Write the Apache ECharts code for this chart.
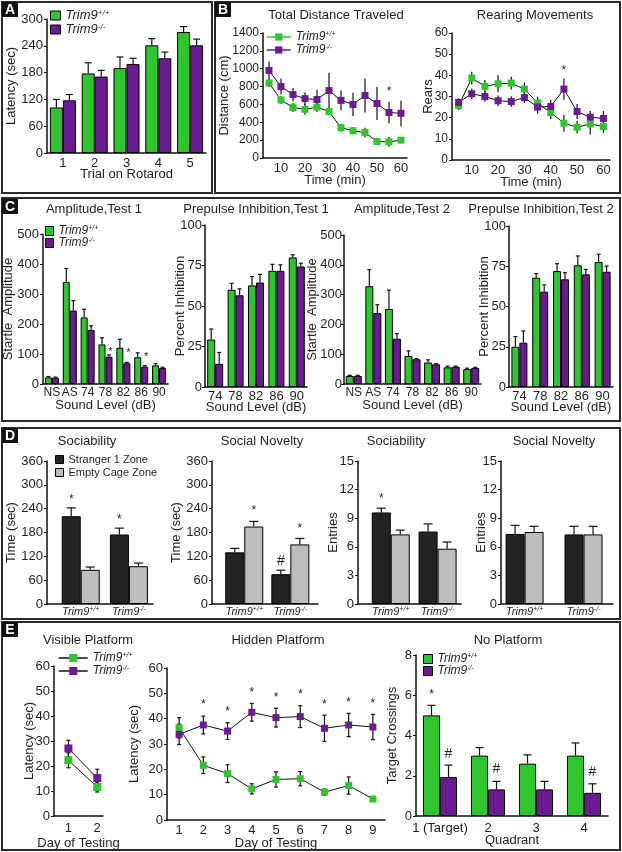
<!DOCTYPE html>
<html>
<head>
<meta charset="utf-8">
<script src="https://cdn.jsdelivr.net/npm/echarts@6/dist/echarts.min.js"></script>
<style>
html, body { margin: 0; padding: 0; background: #fff; }
#main { width: 622px; height: 852px; }
</style>
</head>
<body>
<div id="main"></div>
<script>
// ---------- data ----------
// A: rotarod
var rotaTrials = ['1', '2', '3', '4', '5'];
var rotaWt = [102, 178, 190, 241, 271];
var rotaWtErr = [18, 24, 25, 15, 12];
var rotaKo = [118, 171, 199, 212, 241];
var rotaKoErr = [13, 14, 13, 14, 14];

// B: open field (5 min bins)
var ofTimes = ['5', '10', '15', '20', '25', '30', '35', '40', '45', '50', '55', '60'];
var distWt = [840, 650, 565, 545, 570, 520, 340, 305, 285, 185, 180, 200];
var distWtErr = [45, 45, 50, 60, 55, 35, 45, 40, 55, 35, 55, 30];
var distKo = [980, 800, 710, 665, 655, 755, 645, 600, 700, 610, 510, 500];
var distKoErr = [100, 90, 75, 70, 110, 200, 110, 130, 190, 185, 120, 145];
var distStars = [[10, 773, '*']];
var rearWt = [25.6, 38.7, 34.8, 36, 36.3, 33.5, 26.9, 22.4, 17.4, 15.5, 17, 15.8];
var rearWtErr = [2, 3, 3, 4, 3, 3, 3, 3, 4, 3, 5, 3];
var rearKo = [27.2, 31.3, 30, 28, 27.6, 29.5, 25, 25.3, 33.5, 22.9, 20.2, 19.6];
var rearKoErr = [2, 2.5, 2.5, 2.5, 2.5, 2.5, 3, 3, 5, 3.5, 3, 3.5];
var rearStars = [[8, 43.5, '*']];

// C: acoustic startle / prepulse inhibition
var startleLevels = ['NS', 'AS', '74', '78', '82', '86', '90'];
var amp1Wt = [22, 340, 222, 132, 121, 89, 62];
var amp1WtErr = [3, 45, 27, 22, 28, 15, 6];
var amp1Ko = [21, 245, 180, 91, 69, 58, 53];
var amp1KoErr = [2, 33, 14, 6, 3, 3, 3];
var amp1Stars = [[3, 117, '*'], [4, 113, '*'], [5, 100, '*']];
var ppiLevels = ['74', '78', '82', '86', '90'];
var ppi1Wt = [29.3, 60, 62.7, 71.7, 80];
var ppi1WtErr = [6.5, 4, 5.5, 4, 1.6];
var ppi1Ko = [14.3, 56.6, 64.5, 71.7, 74.4];
var ppi1KoErr = [7, 4, 5, 3.7, 2];
var amp2Wt = [27, 328, 252, 94, 72, 56, 50];
var amp2WtErr = [2, 56, 63, 17, 9, 4, 3];
var amp2Ko = [27, 238, 152, 83, 66, 58, 54];
var amp2KoErr = [2, 28, 17, 2, 2, 2, 2];
var ppi2Wt = [25, 67.9, 72, 75.6, 77.6];
var ppi2WtErr = [6.3, 2.5, 4.6, 5.8, 4.8];
var ppi2Ko = [27.5, 59.2, 66.9, 70, 71.6];
var ppi2KoErr = [7.3, 4.2, 4.1, 3, 3.5];

// D: three-chamber test
var genotypes = ['Trim9+/+', 'Trim9-/-'];
var socTimeStranger = [221, 175];
var socTimeStrangerErr = [21, 16];
var socTimeEmpty = [86, 95];
var socTimeEmptyErr = [7, 8];
var socTimeStrangerMarks = [[0, 271, '*'], [1, 221, '*']];
var novTimeStranger = [130, 75];
var novTimeStrangerErr = [10, 10];
var novTimeEmpty = [195, 150];
var novTimeEmptyErr = [13, 15];
var novTimeStrangerMarks = [[1, 109, '#']];
var novTimeEmptyMarks = [[0, 243, '*'], [1, 198, '*']];
var socEntStranger = [9.6, 7.6];
var socEntStrangerErr = [0.45, 0.8];
var socEntEmpty = [7.3, 5.8];
var socEntEmptyErr = [0.45, 0.7];
var socEntStrangerMarks = [[0, 11.4, '*']];
var novEntStranger = [7.35, 7.3];
var novEntStrangerErr = [0.9, 0.85];
var novEntEmpty = [7.55, 7.3];
var novEntEmptyErr = [0.6, 0.85];

// E: water maze
var visDays = [1, 2];
var visWt = [22.3, 11.6];
var visWtErr = [3, 2];
var visKo = [27, 15.2];
var visKoErr = [3.3, 3.5];
var hidDays = ['1', '2', '3', '4', '5', '6', '7', '8', '9'];
var hidWt = [36.4, 21.6, 18.3, 12.3, 16, 16.3, 11, 13.6, 8.3];
var hidWtErr = [4, 3.3, 3.5, 2, 3, 2.8, 1.2, 3.4, 0.5];
var hidKo = [33.8, 37.5, 35.1, 42.5, 40.4, 40.8, 36.2, 37.5, 36.7];
var hidKoErr = [4, 3.5, 3.3, 3.5, 3.7, 4.3, 5.2, 4.6, 5];
var hidStars = [[1, 46.8, '*'], [2, 44.1, '*'], [3, 51.4, '*'], [4, 49.4, '*'], [5, 50.7, '*'], [6, 46.8, '*'], [7, 47.4, '*'], [8, 47, '*']];
var quadrants = ['1 (Target)', '2', '3', '4'];
var crossWt = [5.0, 3.0, 2.6, 3.0];
var crossWtErr = [0.5, 0.4, 0.44, 0.63];
var crossKo = [1.93, 1.32, 1.32, 1.15];
var crossKoErr = [0.6, 0.4, 0.4, 0.45];
var crossWtMarks = [[0, 6.2, '*']];
var crossKoMarks = [[0, 3.07, '#'], [1, 2.33, '#'], [3, 2.18, '#']];

// ---------- styles ----------
var GREEN = '#2dc72d';
var PURPLE = '#6c1a94';
var DARK = '#232323';
var LIGHT = '#bdbdbd';
var INK = '#1e1e1e';
var FONT = '"Liberation Sans", Arial, sans-serif';

var grids = [], xAxes = [], yAxes = [], series = [], legends = [], elements = [];

function rich(size) {
  return {
    i: {fontStyle: 'italic', fontSize: size, fontFamily: FONT, color: INK, lineHeight: size},
    s: {fontStyle: 'italic', fontSize: Math.round(size * 0.6), fontFamily: FONT, color: INK, verticalAlign: 'top'}
  };
}
function geno(label) {
  return '{i|' + label.slice(0, 5) + '}{s|' + label.slice(5) + '}';
}
function genoName(name) {
  return name.indexOf('WT') === 0 ? geno(genotypes[0]) : geno(genotypes[1]);
}

function addGrid(left, top, width, height) {
  grids.push({left: left, top: top, width: width, height: height, containLabel: false, outerBoundsMode: 'none'});
  return grids.length - 1;
}

function valueY(gi, max, interval, name, nameGap, fs, margin) {
  yAxes.push({
    type: 'value', gridIndex: gi, min: 0, max: max, interval: interval,
    name: name, nameLocation: 'middle', nameGap: nameGap, nameMoveOverlap: false,
    nameTextStyle: {color: INK, fontSize: 13, fontFamily: FONT},
    axisLine: {show: true, lineStyle: {color: '#111', width: 1.5}},
    axisTick: {show: true, length: 3, lineStyle: {color: '#111', width: 1}},
    axisLabel: {color: INK, fontSize: fs || 13, fontFamily: FONT, margin: margin || 4,
      formatter: function (v) { return String(v); }},
    splitLine: {show: false}
  });
}

function catX(gi, data, name, nameGap, margin, fs, labelEvery) {
  xAxes.push({
    type: 'category', gridIndex: gi, data: data, boundaryGap: true,
    name: name, nameLocation: 'middle', nameGap: nameGap, nameMoveOverlap: false,
    nameTextStyle: {color: INK, fontSize: 13, fontFamily: FONT},
    axisLine: {show: true, lineStyle: {color: '#111', width: 1.5}},
    axisTick: {show: false},
    axisLabel: {color: INK, fontSize: fs || 13, fontFamily: FONT, margin: margin,
      interval: labelEvery ? function (i) { return i % 2 === 1; } : 0},
    splitLine: {show: false}
  });
}

// value x axis used where bar groups are not evenly spread across the axis
function numX(gi, min, max, labels, margin, fs) {
  xAxes.push({
    type: 'value', gridIndex: gi, min: min, max: max, interval: 0.1,
    axisLine: {show: true, lineStyle: {color: '#111', width: 1.5}},
    axisTick: {show: false},
    axisLabel: {
      color: INK, fontSize: fs, fontFamily: FONT, margin: margin, rich: rich(fs),
      formatter: function (v) {
        for (var k = 0; k < labels.length; k++) {
          if (Math.abs(v - (k + 1)) < 1e-6) return geno(labels[k]);
        }
        return '';
      }
    },
    splitLine: {show: false}
  });
}

function bars(gi, name, color, values, width, numeric) {
  series.push({
    type: 'bar', name: name, xAxisIndex: gi, yAxisIndex: gi,
    data: numeric ? values.map(function (v, i) { return [i + 1, v]; }) : values,
    barWidth: width, barGap: '0%',
    itemStyle: {color: color, borderColor: '#000', borderWidth: 1},
    z: 2
  });
}

function lines(gi, name, color, values, size, xs) {
  series.push({
    type: 'line', name: name, xAxisIndex: gi, yAxisIndex: gi,
    data: xs ? values.map(function (v, i) { return [xs[i], v]; }) : values,
    symbol: 'rect', symbolSize: size, showSymbol: true,
    lineStyle: {color: '#111', width: 1},
    itemStyle: {color: color},
    z: 5
  });
}

function errs(gi, values, errors, shift, cap, upOnly, xs) {
  series.push({
    type: 'custom', xAxisIndex: gi, yAxisIndex: gi, z: 4, silent: true,
    data: values.map(function (v, i) { return [xs ? xs[i] : i, v, errors[i]]; }),
    renderItem: function (params, api) {
      var x = api.value(0), m = api.value(1), e = api.value(2);
      var lo = api.coord([x, upOnly ? m : m - e]);
      var hi = api.coord([x, m + e]);
      var cx = lo[0] + shift;
      var st = {stroke: '#111', lineWidth: 1.2};
      var kids = [{type: 'line', shape: {x1: cx, y1: lo[1], x2: cx, y2: hi[1]}, style: st}];
      if (cap > 0) {
        kids.push({type: 'line', shape: {x1: cx - cap / 2, y1: hi[1], x2: cx + cap / 2, y2: hi[1]}, style: st});
        if (!upOnly) kids.push({type: 'line', shape: {x1: cx - cap / 2, y1: lo[1], x2: cx + cap / 2, y2: lo[1]}, style: st});
      }
      return {type: 'group', children: kids};
    }
  });
}

function marks(gi, list, shift, fs, numeric) {
  series.push({
    type: 'custom', xAxisIndex: gi, yAxisIndex: gi, z: 6, silent: true,
    data: list.map(function (m) { return [numeric ? m[0] + 1 : m[0], m[1]]; }),
    renderItem: function (params, api) {
      var p = api.coord([api.value(0), api.value(1)]);
      var t = list[params.dataIndex][2];
      return {
        type: 'text', x: p[0] + shift, y: p[1] + (t === '*' ? 3 : 0),
        style: {text: t, fill: INK, font: fs + 'px ' + FONT, align: 'center', verticalAlign: 'middle'}
      };
    }
  });
}

function barLegend(left, top, names, fs, w, h, gap, genoText) {
  legends.push({
    left: left, top: top, orient: 'vertical', padding: 0, itemGap: gap,
    itemWidth: w, itemHeight: h, selectedMode: false,
    data: names.map(function (n) { return {name: n, icon: 'rect'}; }),
    itemStyle: {borderColor: '#000', borderWidth: 1},
    formatter: genoText ? genoName : '{name}',
    textStyle: {fontSize: fs, fontFamily: FONT, color: INK, fontStyle: genoText ? 'italic' : 'normal',
      lineHeight: fs, rich: genoText ? rich(fs) : undefined}
  });
}

function lineLegend(left, top, fs, w, h, gap, colored) {
  legends.push({
    left: left, top: top, orient: 'vertical', padding: 0, itemGap: gap,
    itemWidth: w, itemHeight: h, selectedMode: false,
    data: [
      {name: 'WT line', lineStyle: {color: colored ? GREEN : '#111', width: 1.5}},
      {name: 'KO line', lineStyle: {color: colored ? PURPLE : '#111', width: 1.5}}
    ],
    formatter: genoName,
    textStyle: {fontSize: fs, fontFamily: FONT, color: INK, fontStyle: 'italic', lineHeight: fs, rich: rich(fs)}
  });
}

function box(x, y, w, h) {
  elements.push({type: 'rect', shape: {x: x, y: y, width: w, height: h},
    style: {fill: 'none', stroke: '#2a2a2a', lineWidth: 2}, z: 100});
}
function tag(x, y, letter) {
  elements.push({type: 'rect', shape: {x: x, y: y, width: 16, height: 15}, style: {fill: '#111'}, z: 101});
  elements.push({type: 'text', x: x + 8, y: y + 8,
    style: {text: letter, fill: '#fff', font: 'bold 14px ' + FONT, align: 'center', verticalAlign: 'middle',
      textAlign: 'center', textVerticalAlign: 'middle'}, z: 102});
}
function heading(cx, cy, text) {
  elements.push({type: 'text', x: cx, y: cy,
    style: {text: text, fill: INK, font: '13px ' + FONT, align: 'center', verticalAlign: 'middle',
      textAlign: 'center', textVerticalAlign: 'middle'}, z: 50});
}

// ---------- panel A ----------
var gA = addGrid(47, 19, 159, 134);
catX(gA, rotaTrials, 'Trial on Rotarod', 15, 4, 13);
valueY(gA, 300, 60, 'Latency (sec)', 29);
bars(gA, 'WT', GREEN, rotaWt, 13);
bars(gA, 'KO', PURPLE, rotaKo, 13);
errs(gA, rotaWt, rotaWtErr, -6.5, 7, true);
errs(gA, rotaKo, rotaKoErr, 6.5, 7, true);
barLegend(50, 9, ['WT', 'KO'], 13, 10, 9, 1, true);

// ---------- panel B ----------
var gB1 = addGrid(263, 33, 144, 125);
catX(gB1, ofTimes, 'Time (min)', 16, 4, 13, true);
valueY(gB1, 1400, 200, 'Distance (cm)', 32, 12);
errs(gB1, distWt, distWtErr, 0, 0, false);
errs(gB1, distKo, distKoErr, 0, 0, false);
lines(gB1, 'WT line', GREEN, distWt, 7);
lines(gB1, 'KO line', PURPLE, distKo, 7);
marks(gB1, distStars, 0, 12);
lineLegend(266, 31, 12, 24, 9, 1, true);

var gB2 = addGrid(452, 33, 158, 127);
catX(gB2, ofTimes, 'Time (min)', 16, 4, 13, true);
valueY(gB2, 60, 10, 'Rears', 17, 12);
errs(gB2, rearWt, rearWtErr, 0, 0, false);
errs(gB2, rearKo, rearKoErr, 0, 0, false);
lines(gB2, 'WT line', GREEN, rearWt, 7);
lines(gB2, 'KO line', PURPLE, rearKo, 7);
marks(gB2, rearStars, 0, 12);

// ---------- panel C ----------
var gC1 = addGrid(43, 234, 125, 150);
catX(gC1, startleLevels, 'Sound Level (dB)', 15, 3, 12);
valueY(gC1, 500, 100, 'Startle  Amplitude', 28);
bars(gC1, 'WT', GREEN, amp1Wt, 7);
bars(gC1, 'KO', PURPLE, amp1Ko, 7);
errs(gC1, amp1Wt, amp1WtErr, -3.5, 4, true);
errs(gC1, amp1Ko, amp1KoErr, 3.5, 4, true);
marks(gC1, amp1Stars, 5, 11);
barLegend(45, 225, ['WT', 'KO'], 12, 8, 9, 0, true);

var gC2 = addGrid(205, 225, 102, 162);
catX(gC2, ppiLevels, 'Sound Level (dB)', 14, 3, 13);
valueY(gC2, 100, 25, 'Percent Inhibition', 18, 13, 3);
bars(gC2, 'WT', GREEN, ppi1Wt, 8);
bars(gC2, 'KO', PURPLE, ppi1Ko, 8);
errs(gC2, ppi1Wt, ppi1WtErr, -4, 4, true);
errs(gC2, ppi1Ko, ppi1KoErr, 4, 4, true);

var gC3 = addGrid(344, 235, 137, 149);
catX(gC3, startleLevels, 'Sound Level (dB)', 15, 3, 12);
valueY(gC3, 500, 100, 'Startle  Amplitude', 25, 13, 2);
bars(gC3, 'WT', GREEN, amp2Wt, 8);
bars(gC3, 'KO', PURPLE, amp2Ko, 8);
errs(gC3, amp2Wt, amp2WtErr, -4, 4, true);
errs(gC3, amp2Ko, amp2KoErr, 4, 4, true);

var gC4 = addGrid(509, 226, 104, 161);
catX(gC4, ppiLevels, 'Sound Level (dB)', 14, 3, 13);
valueY(gC4, 100, 25, 'Percent Inhibition', 18, 13, 3);
bars(gC4, 'WT', GREEN, ppi2Wt, 8);
bars(gC4, 'KO', PURPLE, ppi2Ko, 8);
errs(gC4, ppi2Wt, ppi2WtErr, -4, 4, true);
errs(gC4, ppi2Ko, ppi2KoErr, 4, 4, true);

// ---------- panel D ----------
var dX = [1, 2];
var gD1 = addGrid(47, 461, 106, 143);
numX(gD1, 0.3, 2.5, genotypes, 2, 11);
valueY(gD1, 360, 60, 'Time (sec)', 29);
bars(gD1, 'Stranger 1 Zone', DARK, socTimeStranger, 19, true);
bars(gD1, 'Empty Cage Zone', LIGHT, socTimeEmpty, 19, true);
errs(gD1, socTimeStranger, socTimeStrangerErr, -9.5, 9, true, dX);
errs(gD1, socTimeEmpty, socTimeEmptyErr, 9.5, 9, true, dX);
marks(gD1, socTimeStrangerMarks, -9.5, 12, true);
barLegend(55, 454, ['Stranger 1 Zone', 'Empty Cage Zone'], 11, 8, 8, 2, false);

var gD2 = addGrid(212, 461, 106, 143);
numX(gD2, 0.3, 2.6, genotypes, 2, 11);
valueY(gD2, 360, 60, 'Time (sec)', 29);
bars(gD2, 'Stranger 1 Zone', DARK, novTimeStranger, 19, true);
bars(gD2, 'Empty Cage Zone', LIGHT, novTimeEmpty, 19, true);
errs(gD2, novTimeStranger, novTimeStrangerErr, -9.5, 9, true, dX);
errs(gD2, novTimeEmpty, novTimeEmptyErr, 9.5, 9, true, dX);
marks(gD2, novTimeStrangerMarks, -9.5, 14, true);
marks(gD2, novTimeEmptyMarks, 9.5, 12, true);

var gD3 = addGrid(358, 461, 103, 143);
numX(gD3, 0.3, 2.5, genotypes, 2, 11);
valueY(gD3, 15, 3, 'Entries', 18);
bars(gD3, 'Stranger 1 Zone', DARK, socEntStranger, 19, true);
bars(gD3, 'Empty Cage Zone', LIGHT, socEntEmpty, 19, true);
errs(gD3, socEntStranger, socEntStrangerErr, -9.5, 9, true, dX);
errs(gD3, socEntEmpty, socEntEmptyErr, 9.5, 9, true, dX);
marks(gD3, socEntStrangerMarks, -9.5, 12, true);

var gD4 = addGrid(501, 461, 112, 143);
numX(gD4, 0.6, 2.5, genotypes, 2, 11);
valueY(gD4, 15, 3, 'Entries', 13);
bars(gD4, 'Stranger 1 Zone', DARK, novEntStranger, 19, true);
bars(gD4, 'Empty Cage Zone', LIGHT, novEntEmpty, 19, true);
errs(gD4, novEntStranger, novEntStrangerErr, -9.5, 9, true, dX);
errs(gD4, novEntEmpty, novEntEmptyErr, 9.5, 9, true, dX);

// ---------- panel E ----------
var gE1 = addGrid(54, 666, 49, 150);
xAxes.push({
  type: 'value', gridIndex: gE1, min: 0.5, max: 2.2, interval: 0.5,
  name: 'Day of Testing', nameLocation: 'middle', nameGap: 21, nameMoveOverlap: false,
  nameTextStyle: {color: INK, fontSize: 13, fontFamily: FONT},
  axisLine: {show: true, lineStyle: {color: '#111', width: 1.5}},
  axisTick: {show: false},
  axisLabel: {color: INK, fontSize: 13, fontFamily: FONT, margin: 6,
    formatter: function (v) { return Math.abs(v - Math.round(v)) < 1e-6 ? String(Math.round(v)) : ''; }},
  splitLine: {show: false}
});
valueY(gE1, 60, 10, 'Latency (sec)', 18);
errs(gE1, visWt, visWtErr, 0, 4, false, visDays);
errs(gE1, visKo, visKoErr, 0, 4, false, visDays);
lines(gE1, 'WT line', GREEN, visWt, 8, visDays);
lines(gE1, 'KO line', PURPLE, visKo, 8, visDays);
lineLegend(58, 652, 12, 29, 10, 1, false);

var gE2 = addGrid(167, 668, 218, 152);
catX(gE2, hidDays, 'Day of Testing', 17, 4, 13);
valueY(gE2, 60, 10, 'Latency (sec)', 26);
errs(gE2, hidWt, hidWtErr, 0, 4, false);
errs(gE2, hidKo, hidKoErr, 0, 4, false);
lines(gE2, 'WT line', GREEN, hidWt, 7);
lines(gE2, 'KO line', PURPLE, hidKo, 7);
marks(gE2, hidStars, 0, 12);

var gE3 = addGrid(416, 655, 192, 161);
catX(gE3, quadrants, 'Quadrant', 18, 6, 13);
valueY(gE3, 8, 2, 'Target Crossings', 17);
bars(gE3, 'WT', GREEN, crossWt, 17);
bars(gE3, 'KO', PURPLE, crossKo, 17);
errs(gE3, crossWt, crossWtErr, -8.5, 8, true);
errs(gE3, crossKo, crossKoErr, 8.5, 8, true);
marks(gE3, crossWtMarks, -8.5, 12);
marks(gE3, crossKoMarks, 8.5, 14);
barLegend(423, 653, ['WT', 'KO'], 12, 9, 9, 0, true);

// ---------- frames, tags, headings ----------
box(2, 2, 210, 191);
box(215, 2, 405, 191);
box(2, 198, 618, 223);
box(2, 428, 618, 191);
box(2, 622, 618, 228);
tag(2, 2, 'A'); tag(215, 2, 'B'); tag(2, 199, 'C'); tag(2, 428, 'D'); tag(2, 622, 'E');
heading(336, 15, 'Total Distance Traveled');
heading(535, 15, 'Rearing Movements');
heading(94, 209, 'Amplitude,Test 1');
heading(256, 209, 'Prepulse Inhibition,Test 1');
heading(402, 209, 'Amplitude,Test 2');
heading(541, 209, 'Prepulse Inhibition,Test 2');
heading(87, 441, 'Sociability');
heading(262, 441, 'Social Novelty');
heading(396, 441, 'Sociability');
heading(554, 441, 'Social Novelty');
heading(88, 640, 'Visible Platform');
heading(278, 640, 'Hidden Platform');
heading(508, 640, 'No Platform');

var chart = echarts.init(document.getElementById('main'));
chart.setOption({
  backgroundColor: '#fff',
  animation: false,
  grid: grids,
  xAxis: xAxes,
  yAxis: yAxes,
  legend: legends,
  series: series,
  graphic: {elements: elements}
});
</script>
</body>
</html>
